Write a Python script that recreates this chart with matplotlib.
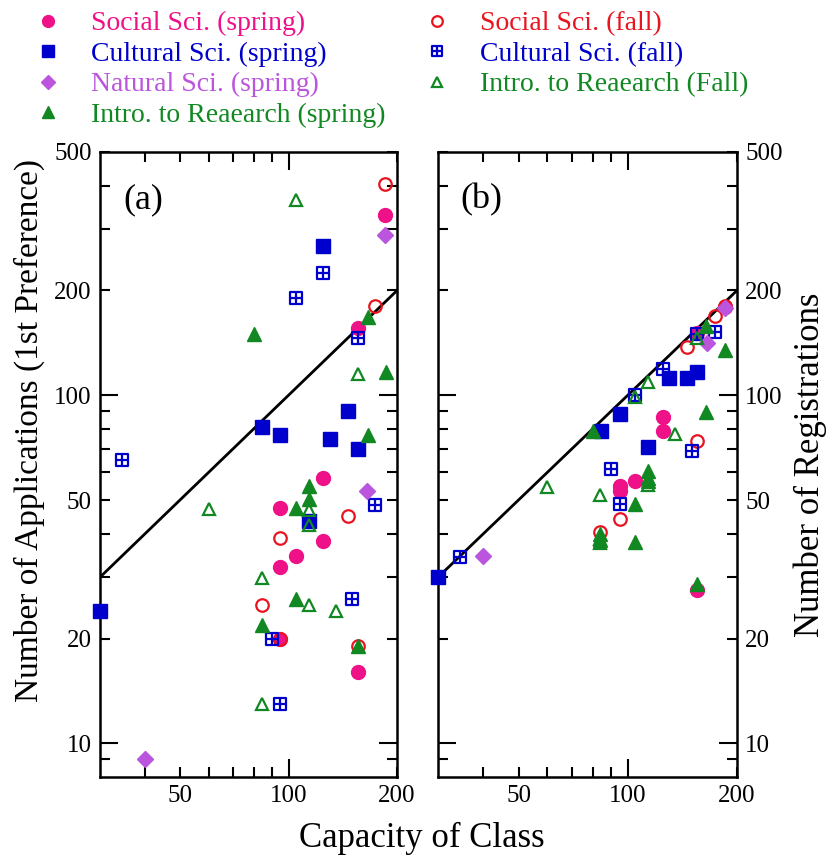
import matplotlib as mpl
mpl.use('Agg')
import matplotlib.pyplot as plt
from matplotlib.path import Path
from matplotlib.ticker import FixedLocator, FixedFormatter

plt.rcParams['font.family'] = ['Liberation Serif', 'DejaVu Serif']

# --- data: (capacity, applications) for panel (a), (capacity, registrations) for (b)
soc_spr_a_x = [185, 156, 125, 95, 125, 105, 95, 95, 156]
soc_spr_a_y = [330, 156, 58, 47.5, 38, 34.5, 32, 20, 16]
soc_spr_b_x = [185, 155, 125, 125, 105, 95, 95, 155]
soc_spr_b_y = [179, 151, 86.6, 79, 56.8, 54.9, 53, 27.5]

soc_fal_a_x = [185, 174, 146, 95, 84.5, 95, 156]
soc_fal_a_y = [405, 181, 45, 39, 25, 20, 19]
soc_fal_b_x = [185, 174, 146, 95, 155, 95, 84]
soc_fal_b_y = [180, 169, 138, 88.5, 74, 44, 40.5]

cul_spr_a_x = [125, 84.5, 95, 146, 130, 156, 114, 30]
cul_spr_a_y = [269, 81, 77, 90, 75, 70, 43.4, 24]
cul_spr_b_x = [30, 84.6, 95, 114, 130, 146, 155]
cul_spr_b_y = [30, 79, 88.5, 71, 112, 112, 117]

cul_fal_a_x = [105, 125, 156, 34.5, 174, 150, 90, 95]
cul_fal_a_y = [190, 225, 146, 65, 48.4, 26, 20, 13]
cul_fal_b_x = [174, 155, 125, 105, 150, 90, 95, 34.6]
cul_fal_b_y = [152, 150, 119, 100, 69, 61.5, 48.7, 34.4]

nat_spr_a_x = [185, 165, 40]
nat_spr_a_y = [288, 53, 9]
nat_spr_b_x = [185, 165, 40]
nat_spr_b_y = [178, 141, 34.5]

int_spr_a_x = [80, 166, 186, 166, 114, 114, 105, 105, 84.5, 156]
int_spr_a_y = [149.5, 167.5, 117, 77, 55, 50.3, 47.4, 26, 21.8, 19]
int_spr_b_x = [164, 185, 164, 80, 114, 114, 114, 105, 84, 84, 105, 155]
int_spr_b_y = [158, 134.5, 89.7, 79, 60.6, 58, 56.8, 48.7, 40, 38.5, 37.8, 28.7]

int_fal_a_x = [105, 156, 60, 114, 114, 84.5, 114, 135, 84.5]
int_fal_a_y = [363, 115, 47, 46.8, 42.4, 29.9, 25, 24, 13]
int_fal_b_x = [155, 114, 105, 135, 60, 84, 114, 84, 84]
int_fal_b_y = [146, 109, 99, 77.6, 54.5, 51.8, 55.2, 37.5, 38.7]

ref_line = [30, 200]

# colours
pink = '#EE1188'
red = '#E81420'
blue = '#0000CC'
orchid = '#BB55DD'
green = '#118822'

# square with a cross inside
box_cross = Path([(-1, -1), (1, -1), (1, 1), (-1, 1), (-1, -1),
                  (0, -1), (0, 1), (-1, 0), (1, 0)],
                 [Path.MOVETO, Path.LINETO, Path.LINETO, Path.LINETO, Path.CLOSEPOLY,
                  Path.MOVETO, Path.LINETO, Path.MOVETO, Path.LINETO])

styles = [
    ('Social Sci. (spring)', pink, dict(marker='o', ms=10, mfc=pink, mec=pink)),
    ('Social Sci. (fall)', red, dict(marker='o', ms=9, mfc='none', mec=red, mew=1.6)),
    ('Cultural Sci. (spring)', blue, dict(marker='s', ms=10, mfc=blue, mec=blue)),
    ('Cultural Sci. (fall)', blue, dict(marker=box_cross, ms=9, mfc='none', mec=blue, mew=1.6)),
    ('Natural Sci. (spring)', orchid, dict(marker='D', ms=8, mfc=orchid, mec=orchid)),
    ('Intro. to Reaearch (spring)', green, dict(marker='^', ms=10, mfc=green, mec=green)),
    ('Intro. to Reaearch (Fall)', green, dict(marker='^', ms=9, mfc='none', mec=green, mew=1.6)),
]

data_a = [(soc_spr_a_x, soc_spr_a_y), (soc_fal_a_x, soc_fal_a_y),
          (cul_spr_a_x, cul_spr_a_y), (cul_fal_a_x, cul_fal_a_y),
          (nat_spr_a_x, nat_spr_a_y), (int_spr_a_x, int_spr_a_y),
          (int_fal_a_x, int_fal_a_y)]
data_b = [(soc_spr_b_x, soc_spr_b_y), (soc_fal_b_x, soc_fal_b_y),
          (cul_spr_b_x, cul_spr_b_y), (cul_fal_b_x, cul_fal_b_y),
          (nat_spr_b_x, nat_spr_b_y), (int_spr_b_x, int_spr_b_y),
          (int_fal_b_x, int_fal_b_y)]

fig = plt.figure(figsize=(8.34, 8.6), dpi=100)
ax_a = fig.add_axes([0.1199, 0.0965, 0.3562, 0.7268])
ax_b = fig.add_axes([0.5252, 0.0965, 0.3585, 0.7268])

handles = {}
for ax, data in ((ax_a, data_a), (ax_b, data_b)):
    ax.plot(ref_line, ref_line, color='black', lw=2, zorder=1)
    for (label, col, st), (xs, ys) in zip(styles, data):
        h, = ax.plot(xs, ys, ls='none', clip_on=False, zorder=3, **st)
        handles[label] = h

    ax.set_xscale('log')
    ax.set_yscale('log')
    ax.set_xlim(30, 200)
    ax.set_ylim(8, 500)

    ax.xaxis.set_major_locator(FixedLocator([100]))
    ax.xaxis.set_major_formatter(FixedFormatter(['100']))
    ax.xaxis.set_minor_locator(FixedLocator([40, 50, 60, 70, 80, 90, 200]))
    ax.xaxis.set_minor_formatter(FixedFormatter(['', '50', '', '', '', '', '200']))

    ax.yaxis.set_major_locator(FixedLocator([10, 100]))
    ax.yaxis.set_major_formatter(FixedFormatter(['10', '100']))
    ymin = [9, 20, 30, 40, 50, 60, 70, 80, 90, 200, 300, 400, 500]
    ax.yaxis.set_minor_locator(FixedLocator(ymin))
    ax.yaxis.set_minor_formatter(FixedFormatter(
        ['', '20', '', '', '50', '', '', '', '', '200', '', '', '500']))

    ax.tick_params(which='both', direction='in', top=True, right=True,
                   width=1.5, labelsize=18, pad=6)
    ax.tick_params(which='major', length=13)
    ax.tick_params(which='minor', length=7)
    for sp in ax.spines.values():
        sp.set_linewidth(1.8)

ax_b.tick_params(which='both', labelleft=False, labelright=True)

ax_a.set_ylabel('Number of Applications (1st Preference)', fontsize=24)
ax_a.yaxis.set_label_coords(-0.185, 0.555)
ax_b.yaxis.set_label_position('right')
ax_b.set_ylabel('Number of Registrations', fontsize=25, labelpad=8)
fig.text(0.506, 0.025, 'Capacity of Class', ha='center', va='center', fontsize=25)

ax_a.text(0.145, 0.923, '(a)', transform=ax_a.transAxes, ha='center', va='center', fontsize=26)
ax_b.text(0.145, 0.923, '(b)', transform=ax_b.transAxes, ha='center', va='center', fontsize=26)

colors = {lab: col for lab, col, st in styles}
col1 = ['Social Sci. (spring)', 'Cultural Sci. (spring)', 'Natural Sci. (spring)',
        'Intro. to Reaearch (spring)']
col2 = ['Social Sci. (fall)', 'Cultural Sci. (fall)', 'Intro. to Reaearch (Fall)']
for names, x0 in ((col1, 34 / 834), (col2, 423 / 834)):
    leg = fig.legend([handles[k] for k in names], names, loc='upper left',
                     bbox_to_anchor=(x0, 1 - 11 / 860), frameon=False, fontsize=20,
                     markerscale=0.85, handlelength=1.0, handletextpad=1.05,
                     labelspacing=0.18, borderaxespad=0, borderpad=0)
    for txt, lab in zip(leg.get_texts(), names):
        txt.set_color(colors[lab])

fig.savefig('out.png', dpi=100)
